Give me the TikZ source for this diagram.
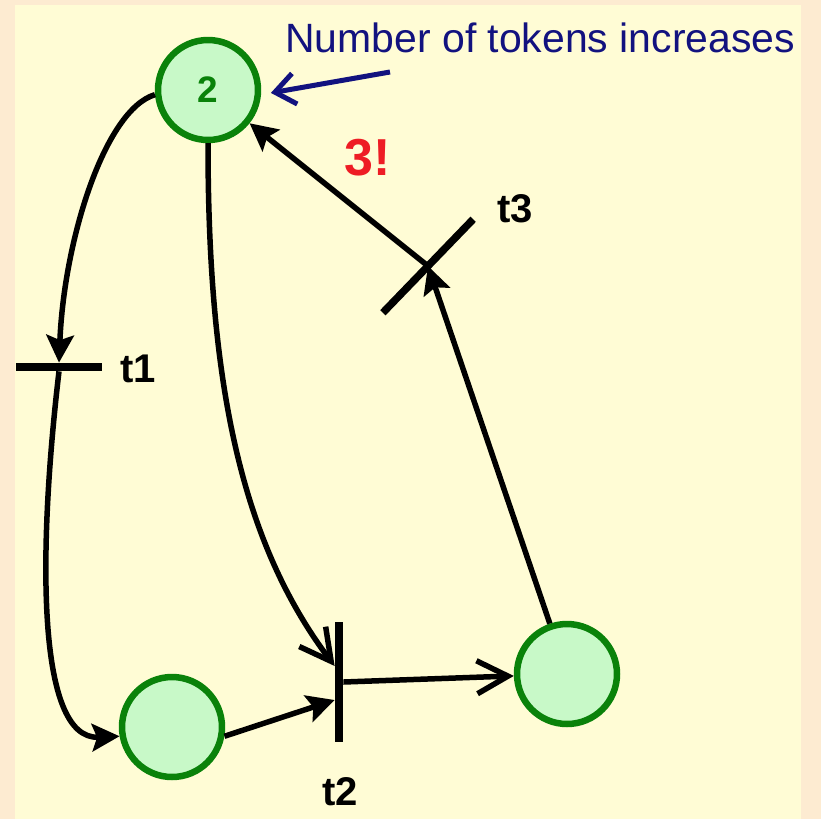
\documentclass[tikz,border=0pt]{standalone}
\usepackage{fontspec}
\setmainfont{Liberation Sans}
\usepackage{tikz}
\usetikzlibrary{arrows.meta,calc}
\usepackage{xcolor}
\definecolor{frame}{HTML}{FDEBD1}
\definecolor{paper}{HTML}{FFFCD5}
\definecolor{placefill}{HTML}{C8F9C8}
\definecolor{placeline}{HTML}{0A820A}
\definecolor{navy}{HTML}{12127F}
\definecolor{alert}{HTML}{EE1C24}

\begin{document}
\begin{tikzpicture}[
  x=0.02cm, y=-0.02cm,
  place/.style={
    circle, draw=placeline, fill=placefill, line width=0.13cm,
    minimum size=2.0cm, inner sep=0pt,
    font=\fontsize{21pt}{24pt}\selectfont\bfseries, text=placeline
  },
  trans/.style={fill=black, inner sep=0pt},
  lbl/.style={font=\fontsize{22.8pt}{27pt}\selectfont\bfseries, inner sep=0pt},
  note/.style={font=\fontsize{23.3pt}{28pt}\selectfont, text=navy, inner sep=0pt},
  arc/.style={line width=0.11cm, -{Stealth[length=0.55cm,width=0.55cm,inset=0.1cm]}},
  openarc/.style={line width=0.11cm, -{Straight Barb[length=0.62cm,width=0.66cm]}},
  pointer/.style={draw=navy, line width=0.1cm, -{Straight Barb[length=0.4cm,width=0.62cm]}}
]
  % background
  \useasboundingbox (0,0) rectangle (821,819);
  \fill[frame] (0,0) rectangle (821,819);
  \fill[paper] (15,5) rectangle (801,819);

  % places
  \node[place] (p1) at (208,90)  {2};
  \node[place] (p2) at (172,727) {};
  \node[place] (p3) at (567,674) {};

  % transitions
  \node[trans, minimum width=1.74cm, minimum height=0.16cm] (t1) at (59,367) {};
  \node[trans, minimum width=0.16cm, minimum height=2.4cm] (t2) at (339,682) {};
  \node[trans, minimum width=2.6cm, minimum height=0.15cm, rotate=46] (t3) at (428,266) {};

  \node[lbl, anchor=base west] (t1lbl) at (120,382) {t1};
  \node[lbl, anchor=base] (t2lbl) at (340,805) {t2};
  \node[lbl, anchor=base] (t3lbl) at (515,222) {t3};

  % arcs
  \draw[arc] (p1.185) .. controls +(-50,15) and +(5,-123) .. (t1.north);
  \draw[arc] (t1.south) .. controls +(-20,170) and +(-85,4) .. (p2.190);
  \draw[openarc] (p1.south) .. controls +(0,236) and +(-95,-126) .. ($(t2.west)+(0,-16)$);
  \draw[arc] (p2.-10) -- ($(t2.west)+(0,18)$);
  \draw[openarc] (t2.east) -- (p3);
  \draw[arc] (p3) -- (t3.center);
  \draw[arc] (t3.center) -- (p1);

  % annotations
  \node[lbl, text=alert, font=\fontsize{29.6pt}{34pt}\selectfont\bfseries, anchor=base] (fire) at (368,175) {3!};
  \node[note, anchor=base west] (note) at (285,52) {Number of tokens increases};
  \coordinate (ptr) at (390,72);
  \draw[pointer, shorten >=0.2cm] (ptr) -- (p1.-5);

\end{tikzpicture}
\end{document}
